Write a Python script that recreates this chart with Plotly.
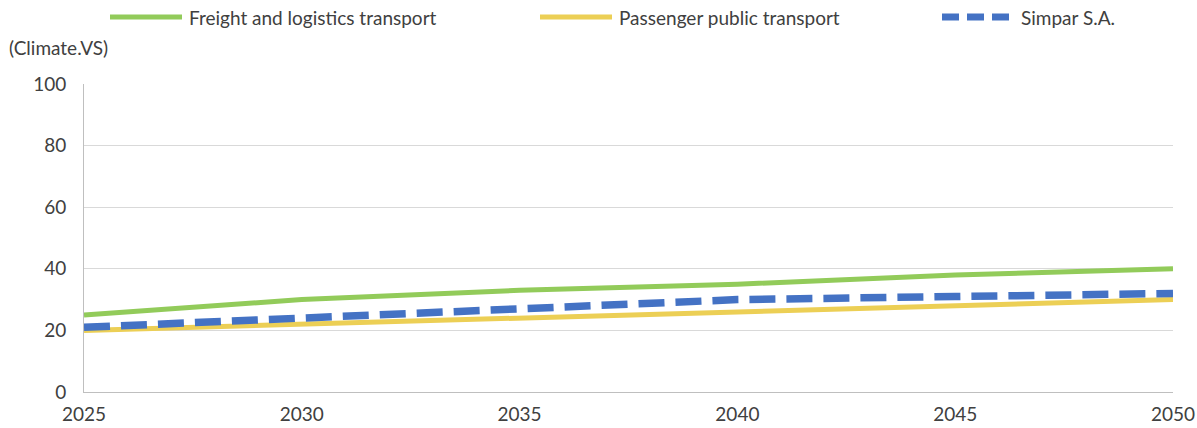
import plotly.graph_objects as go

years = [2025, 2030, 2035, 2040, 2045, 2050]
freight = [25, 30, 33, 35, 38, 40]
passenger = [20, 22, 24, 26, 28, 30]
simpar = [21, 24, 27, 30, 31, 32]

series_names = ["Freight and logistics transport", "Passenger public transport", "Simpar S.A."]
colors = ["#92CB5A", "#ECCF55", "#4472C4"]
y_ticks = [0, 20, 40, 60, 80, 100]
x_ticks = [2025, 2030, 2035, 2040, 2045, 2050]

W, H = 1197, 428
L, R, T, B = 84, 24, 84, 36
pw, ph = W - L - R, H - T - B

def px(x):
    return (x - L) / pw

def py(y):
    return (H - B - y) / ph

fig = go.Figure()
fig.add_trace(go.Scatter(x=years, y=freight, mode="lines", name=series_names[0],
                         line=dict(color=colors[0], width=5)))
fig.add_trace(go.Scatter(x=years, y=passenger, mode="lines", name=series_names[1],
                         line=dict(color=colors[1], width=5)))
fig.add_trace(go.Scatter(x=years, y=simpar, mode="lines", name=series_names[2],
                         line=dict(color=colors[2], width=7.5, dash="26px,11px")))

font = dict(family="Lato", size=19, color="#404040")

fig.update_layout(
    width=W, height=H,
    margin=dict(l=L, r=R, t=T, b=B, autoexpand=False),
    paper_bgcolor="white", plot_bgcolor="white",
    showlegend=False,
    font=font,
    xaxis=dict(range=[2025, 2050], tickvals=x_ticks, ticktext=[str(v) for v in x_ticks],
               showgrid=False, zeroline=False, showline=True, linecolor="#BFBFBF", linewidth=1,
               ticks="", ticklabelstandoff=5, tickfont=font, automargin=False),
    yaxis=dict(range=[0, 100], tickvals=y_ticks, showgrid=True, gridcolor="#D9D9D9", gridwidth=1,
               zeroline=False, showline=True, linecolor="#BFBFBF", linewidth=1,
               ticks="", ticklabelstandoff=13, tickfont=font, automargin=False),
)

# Manual legend
legend_items = [(110, 182, 187), (540, 612, 617), (942, 1014, 1019)]
ly = 17
for i, (x0, x1, xt) in enumerate(legend_items):
    fig.add_shape(type="line", xref="paper", yref="paper",
                  x0=px(x0), x1=px(x1), y0=py(ly), y1=py(ly),
                  line=dict(color=colors[i], width=5 if i < 2 else 7,
                            dash="solid" if i < 2 else "17px,8px"))
    fig.add_annotation(xref="paper", yref="paper", x=px(xt), y=py(ly),
                       xanchor="left", yanchor="middle", showarrow=False,
                       text=series_names[i], font=font)

fig.add_annotation(xref="paper", yref="paper", x=px(7), y=py(47),
                   xanchor="left", yanchor="middle", showarrow=False,
                   text="(Climate.VS)", font=font)

fig.write_html("out.html")
